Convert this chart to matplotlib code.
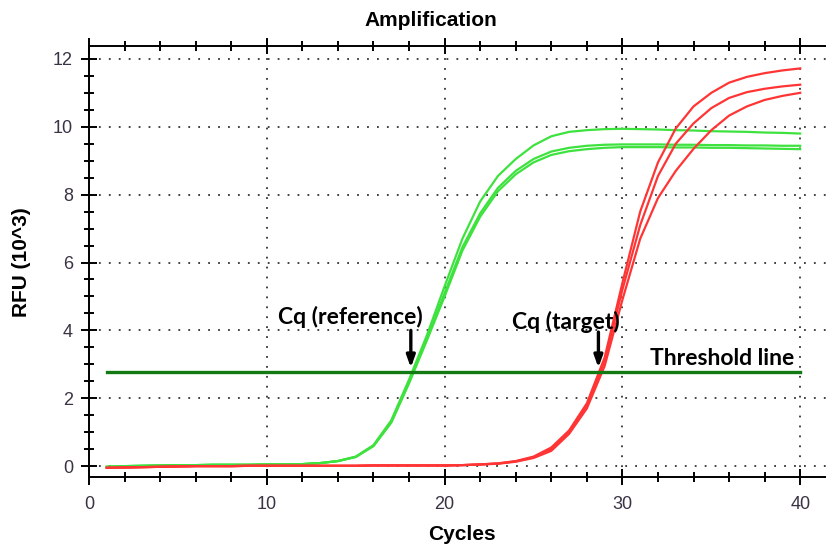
import matplotlib.pyplot as plt
import numpy as np

cycles = np.arange(1, 41)

# reference gene replicates (green), RFU x 10^3
ref_a = [-0.02, 0.00, 0.01, 0.02, 0.03, 0.03, 0.04, 0.04, 0.04, 0.05,
         0.05, 0.06, 0.09, 0.15, 0.28, 0.62, 1.35, 2.55, 3.85, 5.30,
         6.70, 7.80, 8.55, 9.05, 9.45, 9.72, 9.85, 9.90, 9.93, 9.94,
         9.93, 9.92, 9.90, 9.89, 9.87, 9.86, 9.85, 9.83, 9.82, 9.80]
ref_b = [-0.02, 0.00, 0.01, 0.02, 0.03, 0.03, 0.04, 0.04, 0.04, 0.05,
         0.05, 0.06, 0.09, 0.15, 0.27, 0.60, 1.30, 2.48, 3.75, 5.10,
         6.45, 7.45, 8.20, 8.70, 9.05, 9.27, 9.38, 9.44, 9.47, 9.48,
         9.48, 9.48, 9.47, 9.47, 9.46, 9.46, 9.45, 9.45, 9.44, 9.44]
ref_c = [-0.02, 0.00, 0.01, 0.02, 0.03, 0.03, 0.04, 0.04, 0.04, 0.05,
         0.05, 0.06, 0.09, 0.15, 0.27, 0.59, 1.28, 2.44, 3.70, 5.00,
         6.35, 7.35, 8.10, 8.60, 8.95, 9.17, 9.28, 9.34, 9.38, 9.40,
         9.40, 9.40, 9.39, 9.39, 9.38, 9.38, 9.37, 9.36, 9.35, 9.34]

# target gene replicates (red)
tgt_a = [-0.05, -0.04, -0.03, -0.02, -0.01, 0.00, 0.00, 0.00, 0.01, 0.01,
         0.01, 0.01, 0.01, 0.01, 0.01, 0.02, 0.02, 0.02, 0.02, 0.02,
         0.03, 0.05, 0.08, 0.15, 0.28, 0.55, 1.05, 1.85, 3.20, 5.40,
         7.50, 8.95, 9.95, 10.60, 11.00, 11.30, 11.47, 11.58, 11.66, 11.72]
tgt_b = [-0.05, -0.04, -0.03, -0.02, -0.01, 0.00, 0.00, 0.00, 0.01, 0.01,
         0.01, 0.01, 0.01, 0.01, 0.01, 0.02, 0.02, 0.02, 0.02, 0.02,
         0.03, 0.05, 0.08, 0.14, 0.26, 0.50, 1.00, 1.78, 3.10, 5.20,
         7.10, 8.55, 9.50, 10.10, 10.55, 10.85, 11.02, 11.12, 11.19, 11.24]
tgt_c = [-0.05, -0.04, -0.03, -0.02, -0.01, 0.00, 0.00, 0.00, 0.01, 0.01,
         0.01, 0.01, 0.01, 0.01, 0.01, 0.02, 0.02, 0.02, 0.02, 0.02,
         0.03, 0.05, 0.07, 0.13, 0.24, 0.45, 0.95, 1.70, 2.95, 4.90,
         6.70, 7.90, 8.70, 9.35, 9.90, 10.33, 10.60, 10.79, 10.91, 11.00]

threshold = 2.78
cq_ref = 18.1
cq_tgt = 28.65

W, H = 826, 545
fig = plt.figure(figsize=(W / 100, H / 100), dpi=100)
ax = fig.add_axes([89 / W, (H - 477) / H, (W - 89) / W, 431 / H])

for y in (ref_a, ref_b, ref_c):
    ax.plot(cycles, y, color="#3ee23e", lw=1.6, zorder=3)
for y in (tgt_a, tgt_b, tgt_c):
    ax.plot(cycles, y, color="#ff3535", lw=1.6, zorder=3)

ax.plot([1, 40], [threshold, threshold], color="#137a13", lw=2.4, zorder=4)

ax.set_xlim(0, 41.45)
ax.set_ylim(-0.32, 12.38)
ax.set_xticks([0, 10, 20, 30, 40])
ax.set_xticks(np.arange(0, 41, 2), minor=True)
ax.set_yticks(np.arange(0, 13, 2))
ax.set_yticks(np.arange(0, 12.1, 0.5), minor=True)
ax.grid(True, which="major", color="#333333", lw=1.3, ls=(0, (1, 4.5)))

for s in ("left", "top", "bottom"):
    ax.spines[s].set_linewidth(1.4)
ax.spines["right"].set_visible(False)
ax.tick_params(which="major", direction="inout", length=11, width=1.4,
               labelsize=13, labelcolor="#3a3344", pad=8,
               top=True, labeltop=False)
ax.tick_params(which="minor", direction="inout", length=7, width=1.4,
               top=True)
ax.tick_params(axis="y", which="major", pad=6)
for lab in ax.get_xticklabels() + ax.get_yticklabels():
    lab.set_family("Liberation Sans")

fig.text(431 / W, 1 - 20 / H, "Amplification", ha="center", va="center",
         fontsize=15, fontweight="bold", family="Liberation Sans")
fig.text(462 / W, 1 - 535 / H, "Cycles", ha="center", va="center",
         fontsize=15, fontweight="bold", family="Liberation Sans")
fig.text(22 / W, 1 - 262 / H, "RFU (10^3)", ha="center", va="center",
         rotation=90, fontsize=15, fontweight="bold", family="Liberation Sans")

note = dict(fontsize=16.5, fontweight="bold", family="Lato", color="black")
arrow = dict(arrowstyle="-|>,head_width=0.25,head_length=0.7", lw=2.4,
             color="black", shrinkA=0, shrinkB=0)
ax.annotate("", xy=(cq_ref, 2.9), xytext=(cq_ref, 4.0), arrowprops=arrow, zorder=5)
ax.annotate("", xy=(cq_tgt, 2.9), xytext=(cq_tgt, 3.95), arrowprops=arrow, zorder=5)
ax.text(14.7, 4.4, "Cq (reference)", ha="center", va="center", **note)
ax.text(26.8, 4.25, "Cq (target)", ha="center", va="center", **note)
ax.text(35.6, 3.17, "Threshold line", ha="center", va="center", **note)

fig.savefig("out.png", dpi=100)
